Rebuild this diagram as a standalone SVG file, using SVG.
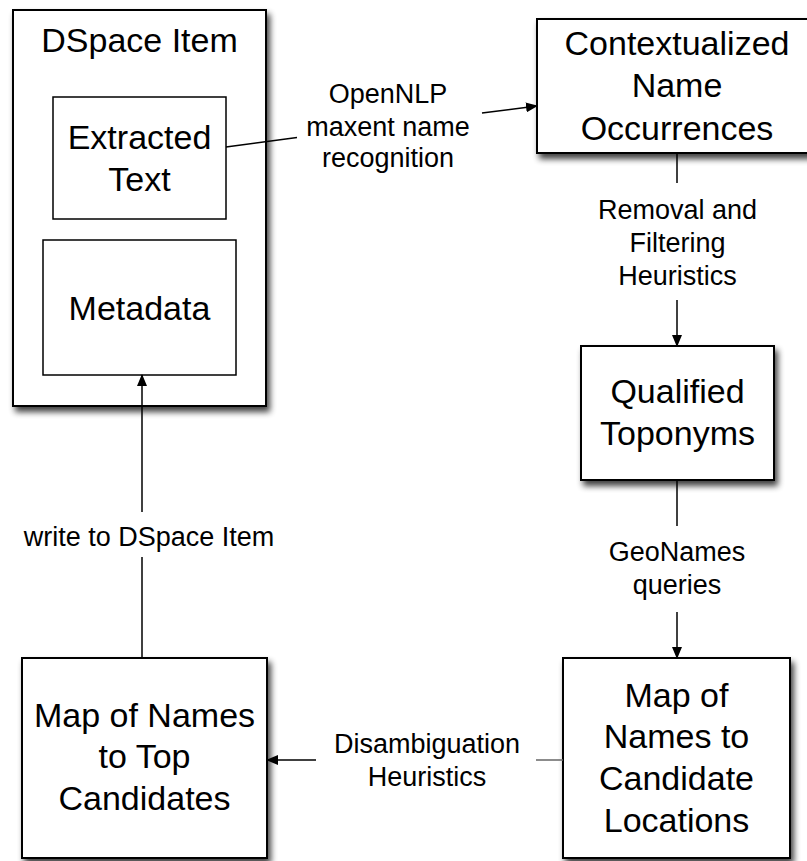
<svg xmlns="http://www.w3.org/2000/svg" width="807" height="861" viewBox="0 0 807 861">
<defs>
<filter id="sh" x="-10%" y="-10%" width="130%" height="130%">
<feGaussianBlur in="SourceAlpha" stdDeviation="3"/>
<feOffset dx="3" dy="5" result="b"/>
<feComponentTransfer><feFuncA type="linear" slope="0.75"/></feComponentTransfer>
<feMerge><feMergeNode/><feMergeNode in="SourceGraphic"/></feMerge>
</filter>
<marker id="ah" markerWidth="12" markerHeight="10" refX="11" refY="5" orient="auto" markerUnits="userSpaceOnUse">
<path d="M0,0 L12,5 L0,10 Z" fill="#000"/>
</marker>
</defs>
<style>
.box{fill:#fff;stroke:#000;stroke-width:2;filter:url(#sh)}
.inner{fill:#fff;stroke:#000;stroke-width:1.5}
.t{font-family:"Liberation Sans",Arial,sans-serif;font-size:34px;fill:#000;text-anchor:middle}
.l{font-family:"Liberation Sans",Arial,sans-serif;font-size:27px;fill:#000;text-anchor:middle}
.c{stroke:#000;stroke-width:1.5;fill:none}
.g{stroke:#666;stroke-width:1.5;fill:none}
</style>
<g id="dspace">
<rect class="box" x="13" y="10" width="253" height="396"/>
<text class="t" x="139.5" y="52">DSpace Item</text>
</g>
<g id="extracted">
<rect class="inner" x="53" y="97" width="173" height="122"/>
<text class="t" x="139.5" y="149">Extracted</text>
<text class="t" x="139.5" y="191">Text</text>
</g>
<g id="metadata">
<rect class="inner" x="43" y="240" width="193" height="135"/>
<text class="t" x="139.5" y="320">Metadata</text>
</g>
<g id="contextualized">
<rect class="box" x="537" y="19" width="282" height="134"/>
<text class="t" x="677" y="55">Contextualized</text>
<text class="t" x="677" y="97">Name</text>
<text class="t" x="677" y="140">Occurrences</text>
</g>
<g id="qualified">
<rect class="box" x="581" y="346" width="193" height="134"/>
<text class="t" x="677.5" y="403">Qualified</text>
<text class="t" x="677.5" y="445">Toponyms</text>
</g>
<g id="candidates">
<rect class="box" x="563" y="658" width="227" height="200"/>
<text class="t" x="676.5" y="707">Map of</text>
<text class="t" x="676.5" y="748">Names to</text>
<text class="t" x="676.5" y="790">Candidate</text>
<text class="t" x="676.5" y="832">Locations</text>
</g>
<g id="top">
<rect class="box" x="22" y="658" width="245" height="200"/>
<text class="t" x="144.5" y="727">Map of Names</text>
<text class="t" x="144.5" y="768">to Top</text>
<text class="t" x="144.5" y="810">Candidates</text>
</g>
<g id="connectors">
<line class="c" x1="226" y1="147" x2="297" y2="137.6"/>
<line class="c" x1="482" y1="113" x2="537" y2="106" marker-end="url(#ah)"/>
<text class="l" x="388" y="103">OpenNLP</text>
<text class="l" x="388" y="136">maxent name</text>
<text class="l" x="388" y="167">recognition</text>
<line class="c" x1="677" y1="153" x2="677" y2="183"/>
<line class="c" x1="677" y1="300" x2="677" y2="346" marker-end="url(#ah)"/>
<text class="l" x="677.5" y="219">Removal and</text>
<text class="l" x="677.5" y="252">Filtering</text>
<text class="l" x="677.5" y="285">Heuristics</text>
<line class="c" x1="677" y1="480" x2="677" y2="526"/>
<line class="c" x1="677" y1="612" x2="677" y2="658" marker-end="url(#ah)"/>
<text class="l" x="677" y="561">GeoNames</text>
<text class="l" x="677" y="594">queries</text>
<line class="g" x1="563" y1="760" x2="536" y2="760"/>
<line class="c" x1="316" y1="760" x2="267" y2="760" marker-end="url(#ah)"/>
<text class="l" x="427" y="753">Disambiguation</text>
<text class="l" x="427" y="786">Heuristics</text>
<line class="c" x1="142" y1="658" x2="142" y2="557"/>
<line class="c" x1="142" y1="512" x2="142" y2="375" marker-end="url(#ah)"/>
<text class="l" x="149" y="546">write to DSpace Item</text>
</g>
</svg>
